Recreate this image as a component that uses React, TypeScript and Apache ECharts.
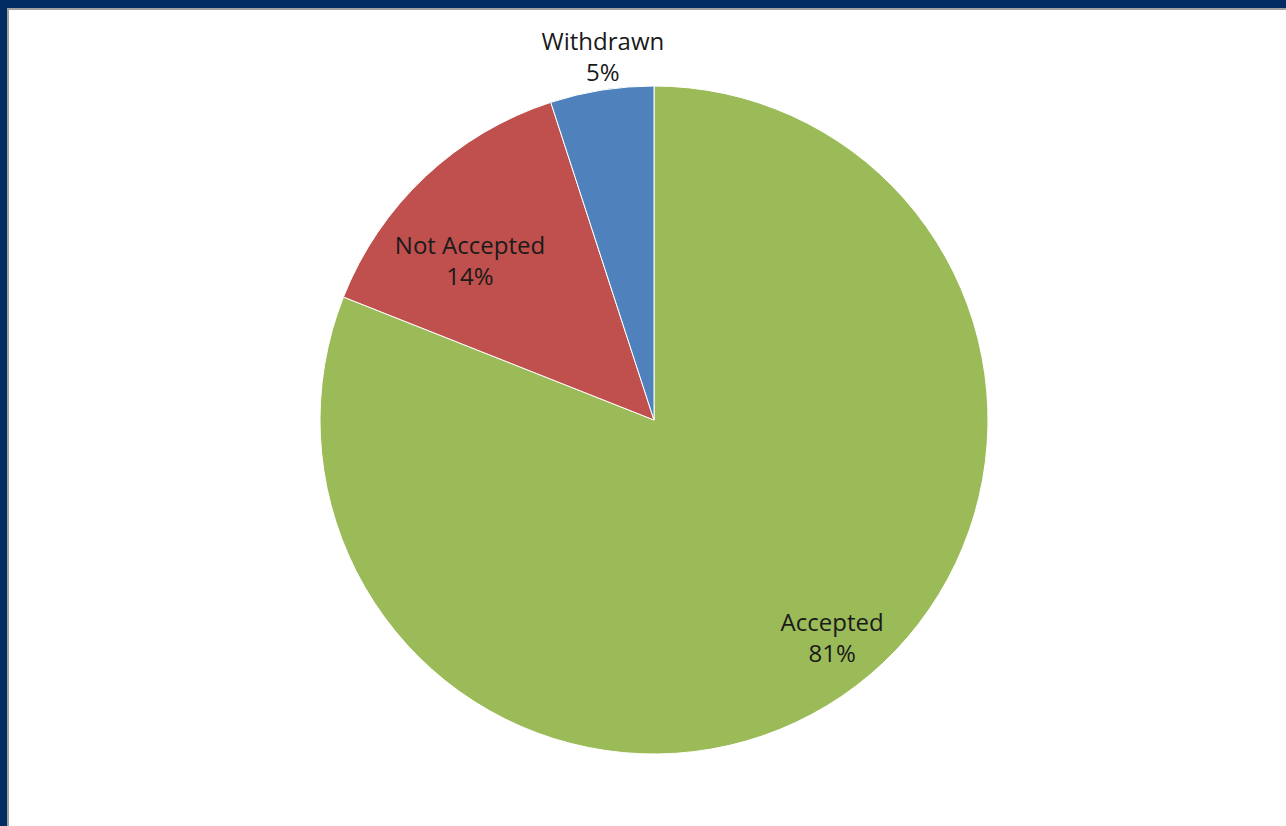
import React, { useEffect, useRef } from "react";
import * as echarts from "echarts";

const categories = ["Accepted", "Not Accepted", "Withdrawn"];
const values = [81, 14, 5];
const colors = ["#9BBB59", "#C0504D", "#4F81BD"];
// label placement: distance from centre (fraction of radius) and angular nudge (deg)
const labelRadiusFrac = [0.84, 0.73, 1.1];
const labelAngleNudge = [-5.2, -5.8, 1];

const CX = 654;
const CY = 420;
const R = 334;

export default function App() {
  const ref = useRef<HTMLDivElement>(null);
  useEffect(() => {
    if (!ref.current) return;
    const chart = echarts.init(ref.current, null, { renderer: "svg" });
    const total = values.reduce((a, b) => a + b, 0);
    const midAngles: number[] = [];
    let acc = 0;
    values.forEach((v, i) => {
      midAngles.push(((acc + v / 2) / total) * Math.PI * 2 + (labelAngleNudge[i] * Math.PI) / 180);
      acc += v;
    });
    chart.setOption({
      animation: false,
      backgroundColor: "#ffffff",
      graphic: [
        { type: "rect", shape: { x: 0, y: 0, width: 1286, height: 8 }, style: { fill: "#002B63" } },
        { type: "rect", shape: { x: 0, y: 0, width: 7, height: 826 }, style: { fill: "#002B63" } },
        { type: "rect", shape: { x: 7, y: 8, width: 1279, height: 2 }, style: { fill: "#A0A0A0" } },
        { type: "rect", shape: { x: 7, y: 8, width: 2, height: 818 }, style: { fill: "#A0A0A0" } },
      ],
      series: [
        {
          type: "pie",
          center: [CX, CY],
          radius: [0, R],
          startAngle: 90,
          clockwise: true,
          avoidLabelOverlap: false,
          itemStyle: { borderColor: "#ffffff", borderWidth: 1 },
          label: {
            show: true,
            position: "inside",
            formatter: "{b}\n{d}%",
            color: "#1a1a1a",
            fontFamily: "Open Sans",
            fontSize: 24,
            lineHeight: 31,
            align: "center",
          },
          labelLine: { show: false },
          labelLayout: (params: any) => {
            const i = params.dataIndex;
            const a = midAngles[i];
            const r = R * labelRadiusFrac[i];
            return {
              x: CX + Math.sin(a) * r,
              y: CY - Math.cos(a) * r,
              align: "center",
              verticalAlign: "middle",
            };
          },
          data: categories.map((c, i) => ({
            name: c,
            value: values[i],
            itemStyle: { color: colors[i] },
          })),
        },
      ],
    });
    return () => chart.dispose();
  }, []);
  return (
    <div
      ref={ref}
      style={{ position: "fixed", left: 0, top: 0, width: 1286, height: 826 }}
    />
  );
}
